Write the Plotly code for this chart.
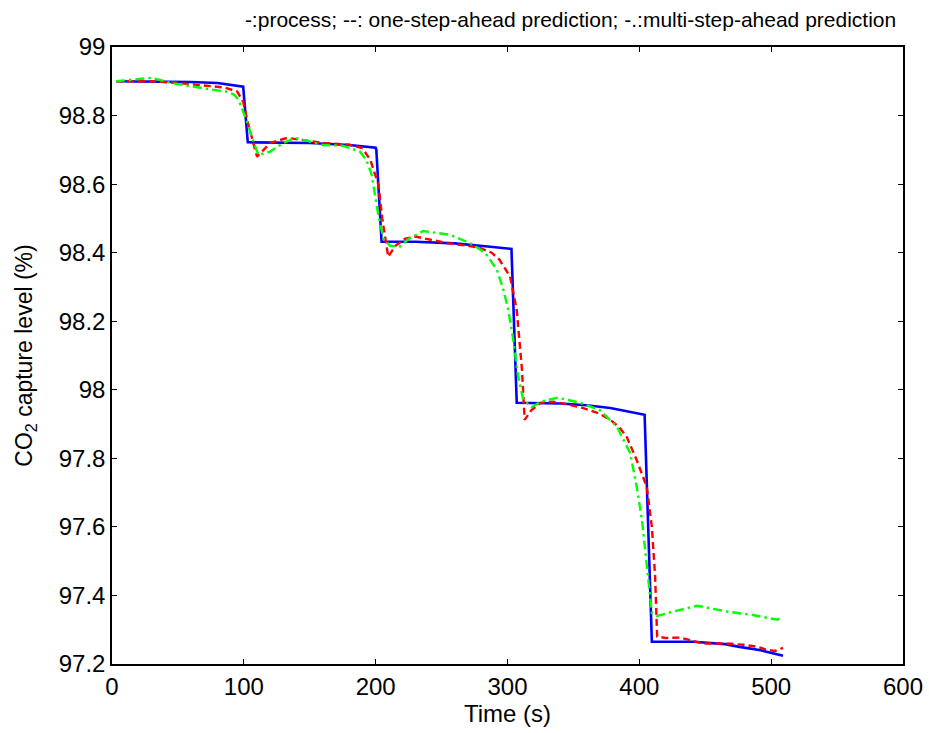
import plotly.graph_objects as go

# Process (solid blue)
t_proc = [3, 20, 40, 60, 80, 99, 99.5, 103, 150, 180, 200, 200.5, 204.5, 230, 260, 285, 303, 307, 340, 360, 378, 404, 409.5, 441, 465, 476, 492, 509]
y_proc = [98.90, 98.90, 98.90, 98.898, 98.895, 98.886, 98.884, 98.722, 98.72, 98.714, 98.706, 98.70, 98.432, 98.432, 98.427, 98.418, 98.411, 97.962, 97.96, 97.955, 97.947, 97.927, 97.265, 97.265, 97.258, 97.25, 97.24, 97.224]

# One-step-ahead prediction (dashed red)
t_one = [3, 30, 50, 70, 85, 95, 99.5, 103, 107, 110, 115, 120, 133, 145, 160, 180, 190, 196, 202, 205, 209.5, 215, 222, 230, 240, 254, 270, 279, 288, 294, 302, 307, 311, 313, 318, 325, 335, 345, 357, 370, 378, 385, 390.5, 398, 405.6, 409.5, 412, 413.5, 420, 431, 440, 448, 465, 479, 490, 497, 503, 509]
y_one = [98.90, 98.90, 98.895, 98.888, 98.882, 98.87, 98.84, 98.78, 98.72, 98.68, 98.70, 98.72, 98.735, 98.728, 98.72, 98.715, 98.705, 98.67, 98.60, 98.50, 98.388, 98.42, 98.44, 98.447, 98.44, 98.428, 98.42, 98.414, 98.40, 98.379, 98.33, 98.233, 98.058, 97.912, 97.94, 97.962, 97.965, 97.958, 97.947, 97.93, 97.912, 97.89, 97.862, 97.795, 97.717, 97.60, 97.454, 97.28, 97.276, 97.277, 97.268, 97.26, 97.26, 97.256, 97.25, 97.241, 97.238, 97.247]

# Multi-step-ahead prediction (dash-dot green)
t_multi = [3, 20, 30, 45, 61.5, 75, 87, 93, 96, 102, 106, 111, 120, 130, 139, 150, 160, 175, 188, 193, 197, 202, 206, 211, 218.5, 225, 236, 246, 256.5, 271.6, 283, 292, 297, 300.6, 304, 308, 312, 318.5, 325, 338, 355, 370, 383, 393, 398, 402, 406, 409.5, 413.5, 425.5, 444, 455, 466.6, 486, 504.6, 509]
y_multi = [98.90, 98.905, 98.91, 98.895, 98.884, 98.876, 98.87, 98.86, 98.845, 98.787, 98.738, 98.685, 98.695, 98.72, 98.735, 98.725, 98.714, 98.712, 98.695, 98.67, 98.627, 98.51, 98.44, 98.42, 98.418, 98.44, 98.463, 98.458, 98.452, 98.428, 98.40, 98.35, 98.29, 98.233, 98.155, 98.04, 97.97, 97.95, 97.965, 97.977, 97.962, 97.941, 97.892, 97.816, 97.717, 97.62, 97.483, 97.349, 97.34, 97.353, 97.37, 97.362, 97.353, 97.343, 97.329, 97.338]

fig = go.Figure()
fig.add_trace(go.Scatter(x=t_proc, y=y_proc, mode="lines",
                         line=dict(color="rgb(0,0,255)", width=2.6), name="process"))
fig.add_trace(go.Scatter(x=t_one, y=y_one, mode="lines",
                         line=dict(color="rgb(255,0,0)", width=2.4, dash="7px,4px"),
                         name="one-step-ahead prediction"))
fig.add_trace(go.Scatter(x=t_multi, y=y_multi, mode="lines",
                         line=dict(color="rgb(0,255,0)", width=2.4, dash="9px,4px,2.5px,4px"),
                         name="multi-step-ahead prediction"))

fig.update_layout(
    width=929, height=733,
    margin=dict(l=112, r=26, t=47, b=69, autoexpand=False),
    paper_bgcolor="white", plot_bgcolor="white",
    showlegend=False,
    font=dict(family="Liberation Sans, Arial, sans-serif", color="black", size=24),
    title=dict(text="-:process; --: one-step-ahead prediction; -.:multi-step-ahead prediction",
               x=0.168, xref="paper", xanchor="left", y=0.973, yanchor="middle",
               font=dict(size=21, color="black")),
)
fig.update_xaxes(range=[0, 600], dtick=100, tick0=0, automargin=False,
                 showline=True, linecolor="black", linewidth=1.5, mirror="allticks",
                 ticks="inside", ticklen=5, tickcolor="black", showgrid=False, zeroline=False,
                 title=dict(text="Time (s)", standoff=4, font=dict(size=24)),
                 tickfont=dict(size=24))
fig.update_yaxes(range=[97.2, 99], dtick=0.2, tick0=97.2, automargin=False,
                 showline=True, linecolor="black", linewidth=1.5, mirror="allticks",
                 ticks="inside", ticklen=5, tickcolor="black", showgrid=False, zeroline=False,
                 title=dict(text="CO<sub>2</sub> capture level (%)", standoff=20, font=dict(size=23)),
                 tickfont=dict(size=24))

fig.write_html("out.html")
